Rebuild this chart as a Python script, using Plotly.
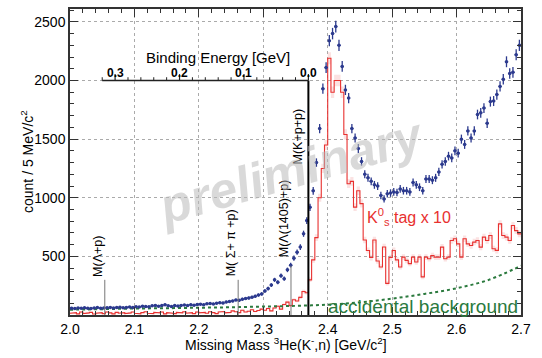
import numpy as np
import plotly.graph_objects as go

# ---------------- data ----------------
bin_width = 0.005
x_start = 2.0

data_counts = [
    58, 55, 60, 57, 62, 58, 56, 60, 63, 58, 60, 62, 65, 60, 63, 66, 62, 65, 68, 64,
    70, 68, 75, 72, 70, 78, 82, 75, 80, 88, 78, 72, 80, 76, 82, 85, 80, 88, 84, 90,
    92, 88, 95, 98, 94, 100, 105, 102, 110, 115,
    120, 128, 125, 135, 140, 145, 152, 160, 170, 180,
    205, 225, 255, 300, 280, 335, 310, 385, 425, 485,
    536, 579, 693, 805, 918, 1059, 1300, 1590, 1930, 2110,
    2340, 2400, 2460, 2300, 2120, 1920, 1850, 1590, 1510, 1420,
    1310, 1200, 1170, 1140, 1110, 1100, 1020, 990, 1035, 1040,
    1050, 1045, 1075, 1060, 1060, 1050, 1130, 1110, 1090, 1060,
    1160, 1160, 1150, 1170, 1220, 1285, 1310, 1355, 1340, 1400,
    1380, 1500, 1455, 1570, 1510, 1570, 1710, 1725, 1765, 1635,
    1820, 1825, 1880, 1950, 2010, 2160, 2060, 2070, 2220, 2300,
]

k0s_tag_x10 = [
    15, 20, 10, 25, 12, 18, 22, 8, 15, 20, 12, 25, 18, 10, 22, 15, 20, 12, 18, 25,
    15, 10, 20, 28, 15, 12, 22, 18, 25, 10, 20, 15, 12, 22, 18, 28, 15, 20, 12, 25,
    18, 22, 15, 28, 20, 12, 25, 30, 18, 22, 35, 28, 20, 40, 25, 32, 45, 30, 38, 50,
    40, 55, 35, 60, 75, 50, 90, 110, 80, 130,
    120, 150, 200, 190, 300, 470, 660, 1000, 1250, 1450,
    2190, 1900, 2000, 2000, 1900, 1540, 1120, 1140, 920, 1060,
    950, 640, 550, 490, 640, 460, 410, 580, 270, 490,
    550, 470, 410, 494, 466, 438, 494, 452, 494, 325,
    494, 480, 507, 494, 494, 579, 480, 494, 636, 650,
    607, 494, 650, 607, 593, 622, 636, 579, 664, 636,
    678, 565, 551, 777, 678, 664, 636, 763, 720, 692,
]

bg_mass = [2.0, 2.05, 2.1, 2.15, 2.2, 2.25, 2.3, 2.35, 2.4, 2.45, 2.5, 2.55, 2.6, 2.65, 2.7]
bg_counts = [45, 50, 55, 58, 62, 66, 72, 78, 88, 108, 140, 180, 228, 300, 420]

threshold_labels = ["M(Λ+p)", "M( Σ+ π +p)", "M(Λ(1405)+p)", "M(K+p+p)"]
threshold_mass = [2.054, 2.261, 2.343, 2.370]
threshold_top = [300, 300, 420, 2000]
threshold_text_base = [310, 310, 480, 1270]

# binding energy axis (B = M(K+p+p) - mass)
binding_zero_mass = 2.370
binding_axis_level = 2000
binding_max = 0.32
binding_ticks = [0.3, 0.2, 0.1, 0.0]
binding_tick_labels = ["0.3", "0.2", "0.1", "0.0"]
binding_minor = [0.32, 0.28, 0.26, 0.24, 0.22, 0.18, 0.16, 0.14, 0.12, 0.08, 0.06, 0.04, 0.02]

# ---------------- derived ----------------
n = len(data_counts)
centers = x_start + bin_width * (np.arange(n) + 0.5)
edges = x_start + bin_width * np.arange(n + 1)
counts = np.array(data_counts, dtype=float)
errs = np.sqrt(counts)
red = np.array(k0s_tag_x10, dtype=float)
red_err = 0.35 * np.sqrt(10 * red)

BLUE = "#2c3a8e"
RED = "#e8302f"
GREEN = "#2b7a3e"
FONT = "Liberation Sans, Arial, sans-serif"
Y_MAX = 2610

fig = go.Figure()

step_x = np.repeat(edges, 2)[1:-1]
lo = np.repeat(red - red_err, 2)
hi = np.repeat(red + red_err, 2)
fig.add_trace(go.Scatter(x=step_x, y=lo, mode="lines", line=dict(width=0),
                         hoverinfo="skip", showlegend=False))
fig.add_trace(go.Scatter(x=step_x, y=hi, mode="lines", line=dict(width=0),
                         fill="tonexty", fillcolor="rgba(240,140,140,0.25)",
                         hoverinfo="skip", showlegend=False))
fig.add_trace(go.Scatter(x=step_x, y=np.repeat(red, 2), mode="lines",
                         line=dict(color=RED, width=1.1), showlegend=False))

fig.add_trace(go.Scatter(x=bg_mass, y=bg_counts, mode="lines", line_shape="spline",
                         line=dict(color=GREEN, width=2, dash="3px,3px"), showlegend=False))

fig.add_trace(go.Scatter(
    x=centers, y=counts, mode="markers",
    marker=dict(color=BLUE, size=3.5),
    error_y=dict(type="data", array=errs, color=BLUE, thickness=1.3, width=0),
    error_x=dict(type="constant", value=bin_width / 2, color=BLUE, thickness=1.3, width=0),
    showlegend=False))

shapes = []
annotations = []
for lab, m, top, base in zip(threshold_labels, threshold_mass, threshold_top, threshold_text_base):
    is_main = lab == "M(K+p+p)"
    shapes.append(dict(type="line", xref="x", yref="y", x0=m, x1=m, y0=0, y1=top,
                       line=dict(color="black" if is_main else "#777777",
                                 width=2 if is_main else 1)))
    annotations.append(dict(x=m, y=base, xref="x", yref="y", text=lab, textangle=-90,
                            showarrow=False, xanchor="right", yanchor="bottom",
                            xshift=2 if not is_main else -1,
                            font=dict(family=FONT, size=12.5, color="black")))

# binding energy axis drawn with shapes
shapes.append(dict(type="line", xref="x", yref="y",
                   x0=binding_zero_mass - binding_max, x1=binding_zero_mass,
                   y0=binding_axis_level, y1=binding_axis_level,
                   line=dict(color="#222222", width=1.5)))
for b in binding_ticks:
    shapes.append(dict(type="line", xref="x", yref="y",
                       x0=binding_zero_mass - b, x1=binding_zero_mass - b,
                       y0=binding_axis_level, y1=binding_axis_level + 55,
                       line=dict(color="#222222", width=1.2)))
for b in binding_minor:
    shapes.append(dict(type="line", xref="x", yref="y",
                       x0=binding_zero_mass - b, x1=binding_zero_mass - b,
                       y0=binding_axis_level, y1=binding_axis_level + 28,
                       line=dict(color="#222222", width=1)))
for b, t in zip(binding_ticks, binding_tick_labels):
    annotations.append(dict(x=binding_zero_mass - b, y=binding_axis_level, xref="x", yref="y",
                            text="<b>" + t + "</b>", showarrow=False, yanchor="bottom",
                            yshift=-1, font=dict(family=FONT, size=12, color="black")))
annotations.append(dict(x=binding_zero_mass - 0.14, y=binding_axis_level, xref="x", yref="y",
                        text="Binding Energy [GeV]", showarrow=False, yanchor="bottom",
                        yshift=13, font=dict(family=FONT, size=15, color="black")))

fig.update_layout(
    width=542, height=358,
    margin=dict(l=70, r=21, t=7, b=43),
    paper_bgcolor="white", plot_bgcolor="white",
    font=dict(family=FONT, size=13, color="black"),
    xaxis=dict(range=[2.0, 2.7], dtick=0.1, tickformat=".1f",
               showline=True, linecolor="#333333", linewidth=1.5, mirror="allticks",
               ticks="inside", ticklen=8, tickcolor="#333333",
               minor=dict(ticks="inside", ticklen=4, dtick=0.02, tickcolor="#333333"),
               showgrid=True, gridcolor="#aaaaaa", griddash="dot", gridwidth=1,
               zeroline=False, tickfont=dict(size=14)),
    yaxis=dict(range=[0, Y_MAX],
               showline=True, linecolor="#333333", linewidth=1.5, mirror="allticks",
               ticks="inside", ticklen=8, tickcolor="#333333",
               minor=dict(ticks="inside", ticklen=4, dtick=100, tickcolor="#333333"),
               showgrid=True, gridcolor="#aaaaaa", griddash="dot", gridwidth=1,
               zeroline=False, tickfont=dict(size=14),
               tickvals=[500, 1000, 1500, 2000, 2500]),
    shapes=shapes,
)

annotations += [
    dict(x=0.49, y=0.47, xref="paper", yref="paper", text="<b><i>preliminary</i></b>",
         textangle=-16, showarrow=False,
         font=dict(family=FONT, size=50, color="rgba(185,185,185,0.55)")),
    dict(x=2.458, y=840, xref="x", yref="y", text="K<sup>0</sup><sub>s</sub> tag x 10",
         showarrow=False, xanchor="left", yanchor="middle",
         font=dict(family=FONT, size=16, color=RED)),
    dict(x=2.698, y=75, xref="x", yref="y", text="accidental background",
         showarrow=False, xanchor="right", yanchor="middle",
         font=dict(family=FONT, size=19, color=GREEN)),
    dict(x=0, y=0.5, xref="paper", yref="paper", xshift=-43, xanchor="center",
         yanchor="middle", text="count / 5 MeV/c<sup>2</sup>",
         textangle=-90, showarrow=False, font=dict(family=FONT, size=14)),
    dict(x=0.48, y=0, xref="paper", yref="paper", yshift=-29, yanchor="middle",
         xanchor="center",
         text="Missing Mass <sup>3</sup>He(K<sup>-</sup>,n) [GeV/c<sup>2</sup>]",
         showarrow=False, font=dict(family=FONT, size=14)),
]
fig.update_layout(annotations=annotations)

fig.write_html("out.html", config={"displayModeBar": False},
               post_script="document.body.style.margin='0';")
